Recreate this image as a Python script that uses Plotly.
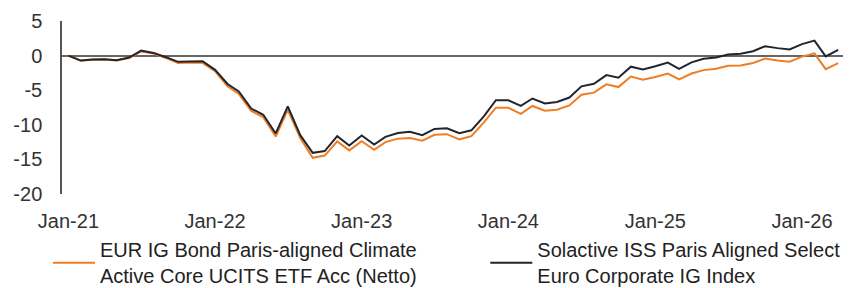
import pandas as pd
import plotly.graph_objects as go

months = pd.date_range("2021-01-01", periods=64, freq="MS")

etf_name = "EUR IG Bond Paris-aligned Climate<br>Active Core UCITS ETF Acc (Netto)"
index_name = "Solactive ISS Paris Aligned Select<br>Euro Corporate IG Index"

etf_values = [0, -0.75, -0.6, -0.55, -0.7, -0.35, 0.6, 0.3, -0.35, -1.05, -1.0, -1.05,
              -2.25, -4.43, -5.53, -8.0, -8.9, -11.7, -7.85, -11.9, -14.77, -14.45, -12.4, -13.7,
              -12.37, -13.6, -12.5, -12.0, -11.9, -12.3, -11.45, -11.35, -12.1, -11.65, -9.64, -7.53,
              -7.55, -8.41, -7.28, -7.96, -7.81, -7.2, -5.65, -5.35, -4.15, -4.55, -3.02, -3.5,
              -3.1, -2.59, -3.45, -2.59, -2.1, -1.91, -1.48, -1.43, -1.07, -0.43, -0.71, -0.88,
              -0.15, 0.33, -1.96, -1.09]

index_values = [0, -0.72, -0.57, -0.53, -0.67, -0.28, 0.72, 0.39, -0.23, -0.9, -0.86, -0.8,
                -2.06, -4.1, -5.18, -7.65, -8.55, -11.25, -7.35, -11.5, -14.05, -13.8, -11.65, -13.0,
                -11.55, -12.85, -11.75, -11.2, -11.0, -11.5, -10.6, -10.5, -11.2, -10.8, -8.77, -6.45,
                -6.45, -7.26, -6.2, -6.92, -6.7, -6.06, -4.45, -4.07, -2.82, -3.2, -1.6, -2.0,
                -1.55, -1.02, -1.93, -0.98, -0.47, -0.26, 0.15, 0.26, 0.63, 1.35, 1.08, 0.89,
                1.66, 2.16, -0.12, 0.82]

y_ticks = [5, 0, -5, -10, -15, -20]
y_tick_labels = ["5", "0", "-5", "-10", "-15", "-20"]
x_tick_labels = ["Jan-21", "Jan-22", "Jan-23", "Jan-24", "Jan-25", "Jan-26"]

FONT = "Liberation Sans, Arial, sans-serif"

fig = go.Figure()
fig.add_trace(go.Scatter(x=months, y=etf_values, mode="lines", name=etf_name,
                         line=dict(color="#F07D22", width=2), legend="legend"))
fig.add_trace(go.Scatter(x=months, y=index_values, mode="lines", name=index_name,
                         line=dict(color="#22252e", width=2), legend="legend2"))

legend_common = dict(orientation="v", yanchor="top", xanchor="left", itemwidth=42,
                     font=dict(family=FONT, size=20, color="#222222"),
                     bgcolor="rgba(0,0,0,0)", valign="middle")

fig.update_layout(
    width=862, height=288,
    margin=dict(l=62, r=19, t=21, b=94, autoexpand=False),
    paper_bgcolor="white", plot_bgcolor="white",
    font=dict(family=FONT, size=20, color="#333333"),
    showlegend=True,
    legend=dict(x=-0.018, y=-0.209, **legend_common),
    legend2=dict(x=0.542, y=-0.209, **legend_common),
    xaxis=dict(type="date", range=["2020-12-16", "2026-04-13"],
               tickvals=[months[i] for i in range(0, 64, 12)], ticktext=x_tick_labels,
               showgrid=False, zeroline=False, showline=False,
               ticks="", ticklabelstandoff=13, tickfont=dict(size=20, color="#333333")),
    yaxis=dict(range=[-20, 5], tickvals=y_ticks, ticktext=y_tick_labels, showgrid=False,
               zeroline=True, zerolinecolor="#666666", zerolinewidth=2,
               showline=True, linecolor="#555555", linewidth=1.5,
               ticks="", ticklabelstandoff=14, tickfont=dict(size=20, color="#333333")),
)

fig.write_html("out.html", config={"displayModeBar": False},
               post_script="document.body.style.margin='0';document.body.style.overflow='hidden';")
